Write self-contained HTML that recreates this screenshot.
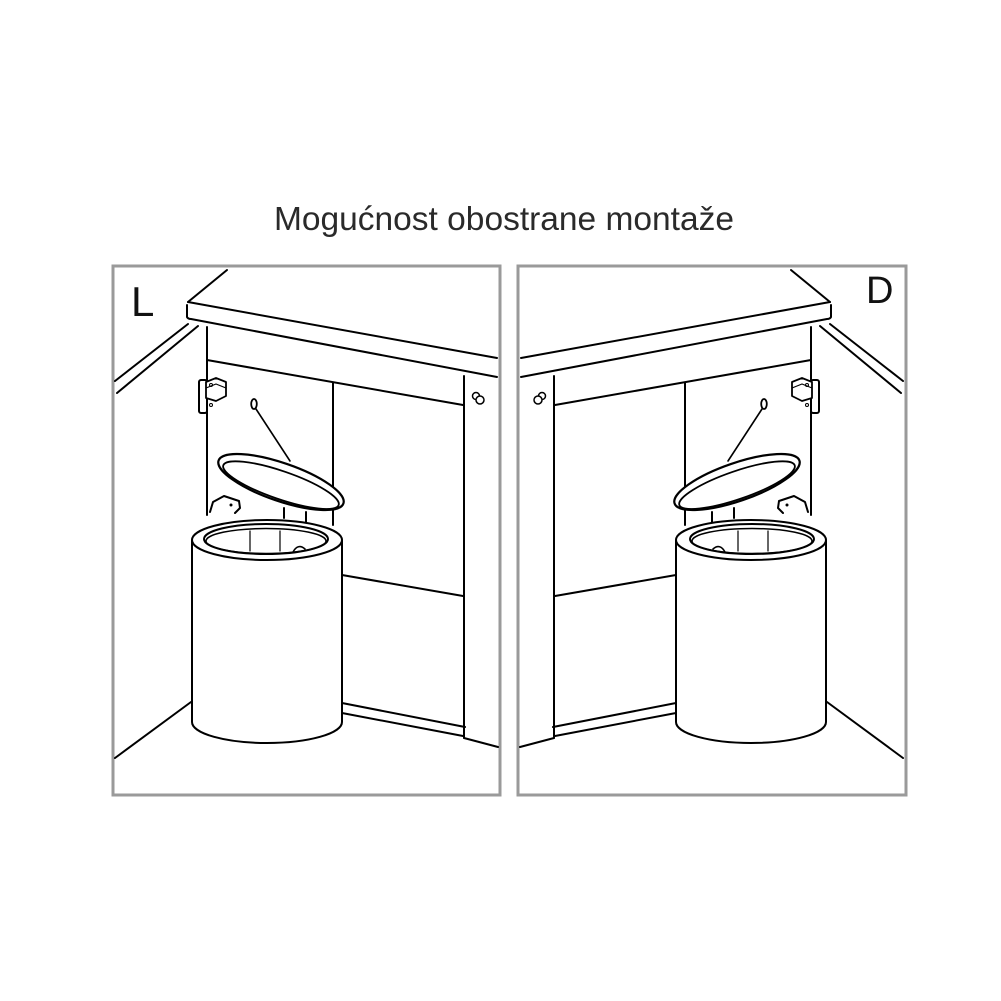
<!DOCTYPE html>
<html><head><meta charset="utf-8"><style>
html,body{margin:0;padding:0;background:#fff;}
svg{display:block;}
</style></head><body>
<svg width="1001" height="1001" viewBox="0 0 1001 1001" xmlns="http://www.w3.org/2000/svg">
<rect width="1001" height="1001" fill="#fff"/>
<text x="504" y="230" text-anchor="middle" font-family="Liberation Sans, sans-serif" font-size="33.5" fill="#2a2a2a">Mogućnost obostrane montaže</text>
<defs>
<g id="scene" fill="none" stroke="#000" stroke-width="2" stroke-linejoin="round" stroke-linecap="round">
  <line x1="227" y1="270" x2="188" y2="302"/>
  <path d="M188,302 L497,358"/>
  <path d="M187,305 L187,317 Q188,319 191,319 L497,377"/>
  <line x1="115" y1="381" x2="188" y2="324"/>
  <line x1="117" y1="393" x2="198" y2="326"/>
  <line x1="115" y1="758" x2="191" y2="702"/>
  <line x1="207" y1="327" x2="207" y2="515"/>
  <line x1="207" y1="360" x2="463" y2="405"/>
  <line x1="333" y1="383" x2="333" y2="525"/>
  <line x1="342" y1="575" x2="463" y2="596"/>
  <line x1="342" y1="703" x2="465" y2="727"/>
  <line x1="342" y1="713" x2="463" y2="736"/>
  <line x1="464" y1="376" x2="464" y2="738"/>
  <line x1="464" y1="738" x2="498" y2="747"/>
  <circle cx="476" cy="396" r="3.5" stroke-width="1.5"/>
  <circle cx="480" cy="400" r="4" stroke-width="1.5" fill="#fff"/>
  <rect x="199" y="380" width="8" height="33" rx="2" fill="#fff" stroke-width="2"/>
  <path d="M206,382 L216,378 L226,382 L226,396 L216,401 L206,398 Z" fill="#fff" stroke-width="1.8"/>
  <path d="M206,388 L216,384 L226,388" stroke-width="1.2"/>
  <circle cx="211" cy="385" r="1.5" stroke-width="1"/>
  <circle cx="211" cy="405" r="1.5" stroke-width="1"/>
  <ellipse cx="254" cy="404" rx="2.8" ry="5" stroke-width="1.8"/>
  <line x1="256" y1="409" x2="290" y2="461" stroke-width="1.6"/>
  <path d="M210,512 L213,502 L224,496 L239,501 L240,508 L235,513" fill="#fff"/>
  <circle cx="231" cy="505" r="1.5" fill="#000" stroke="none"/>
  <g transform="rotate(19 281 482)">
    <ellipse cx="281" cy="482" rx="66" ry="19" fill="#fff" stroke-width="2.2"/>
    <ellipse cx="282" cy="485" rx="61" ry="14" stroke-width="1.8"/>
  </g>
  <line x1="284" y1="508" x2="284" y2="518"/>
  <line x1="306" y1="512" x2="306" y2="522"/>
  <path d="M192,540 L192,722 A75,21 0 0 0 342,722 L342,540" fill="#fff"/>
  <ellipse cx="267" cy="540" rx="75" ry="20" fill="#fff"/>
  <ellipse cx="266" cy="539" rx="62" ry="15"/>
  <ellipse cx="266" cy="541" rx="60" ry="12.5" stroke-width="1.5"/>
  <line x1="250" y1="531" x2="250" y2="551" stroke-width="1.2"/>
  <line x1="280" y1="531" x2="280" y2="551" stroke-width="1.2"/>
  <path d="M293,552 Q298,543 305,549" stroke-width="1.6"/>
</g>
</defs>
<rect x="113" y="266" width="387" height="529" fill="none" stroke="#9a9a9a" stroke-width="3"/>
<rect x="518" y="266" width="388" height="529" fill="none" stroke="#9a9a9a" stroke-width="3"/>
<use href="#scene"/>
<use href="#scene" transform="matrix(-1 0 0 1 1018 0)"/>
<text x="131" y="316" font-family="Liberation Sans, sans-serif" font-size="42" fill="#111">L</text>
<text x="866" y="303" font-family="Liberation Sans, sans-serif" font-size="38" fill="#111">D</text>
</svg>
</body></html>
